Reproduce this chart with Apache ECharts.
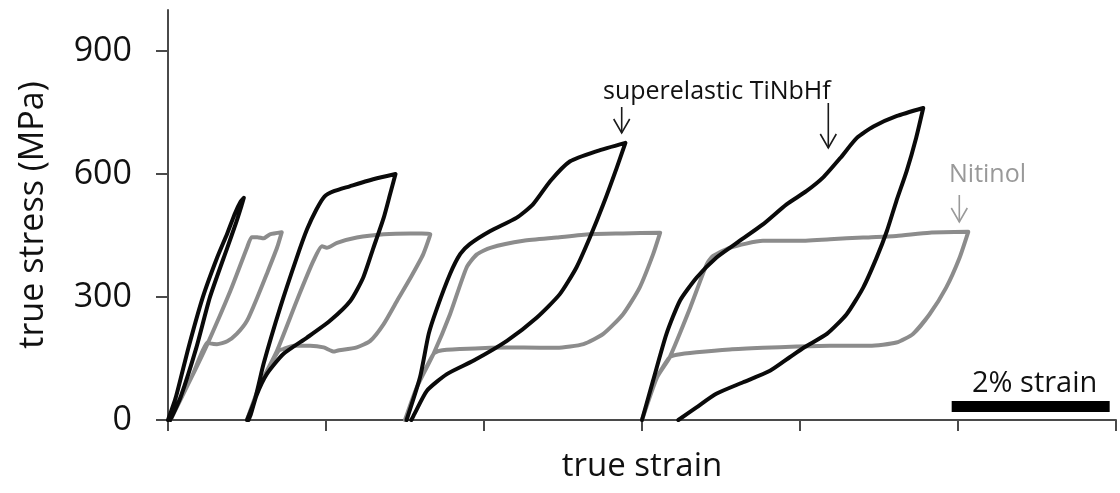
<!DOCTYPE html>
<html>
<head>
<meta charset="utf-8">
<script src="https://cdn.jsdelivr.net/npm/echarts@6/dist/echarts.min.js"></script>
<style>
html,body{margin:0;padding:0;background:#fff;}
#c{width:1120px;height:493px;}
</style>
</head>
<body>
<div id="c"></div>
<script>
// ---- data: [true strain (%), true stress (MPa)] ----
var tiCycle1 = [[0,0],[0.1,56],[0.26,177],[0.44,299],[0.62,395],[0.75,455],[0.85,505],[0.92,533],[0.96,542],[0.93,522],[0.86,480],[0.75,420],[0.53,299],[0.36,177],[0.16,56],[0.03,0]];
var tiCycle2 = [[1.0,0],[1.1,50],[1.21,137],[1.42,274],[1.63,396],[1.76,465],[1.88,514],[1.98,545],[2.10,558],[2.3,570],[2.52,583],[2.7,592],[2.88,600],[2.81,550],[2.73,493],[2.60,420],[2.47,347],[2.31,291],[2.05,242],[1.76,201],[1.46,161],[1.25,112],[1.12,60],[1.05,15],[1.02,0]];
var tiCycle3 = [[3.02,0],[3.19,104],[3.30,210],[3.40,270],[3.57,356],[3.70,405],[3.82,429],[4.08,461],[4.41,493],[4.62,526],[4.84,583],[5.09,631],[5.43,656],[5.79,676],[5.68,615],[5.51,526],[5.34,445],[5.17,372],[4.96,307],[4.67,250],[4.29,193],[3.87,145],[3.53,112],[3.28,72],[3.12,15],[3.08,0]];
var tiCycle4 = [[6.0,0],[6.14,96],[6.31,210],[6.48,291],[6.69,347],[6.94,396],[7.20,432],[7.53,477],[7.83,526],[8.08,558],[8.29,591],[8.51,639],[8.72,688],[8.93,716],[9.22,741],[9.56,761],[9.47,688],[9.35,607],[9.22,534],[9.10,461],[8.97,396],[8.80,323],[8.59,258],[8.34,210],[8.06,178],[7.87,153],[7.62,120],[7.28,92],[6.94,64],[6.69,31],[6.46,0]];

var niCycle1 = [[0.03,0],[0.3,105],[0.51,190],[0.79,315],[1.0,420],[1.06,446],[1.13,446],[1.21,443],[1.29,453],[1.44,458],[1.38,420],[1.25,356],[1.13,299],[1.0,242],[0.87,210],[0.75,192],[0.62,185],[0.535,187],[0.51,190],[0.3,105],[0.03,0]];
var niCycle2 = [[1.0,0],[1.17,88],[1.38,169],[1.63,291],[1.84,388],[1.95,424],[2.01,420],[2.14,432],[2.39,445],[2.73,453],[3.07,455],[3.32,453],[3.23,404],[3.07,347],[2.90,291],[2.73,234],[2.56,193],[2.39,177],[2.14,169],[2.10,167],[1.97,177],[1.80,181],[1.59,181],[1.46,173],[1.40,169],[1.17,88],[1.0,0]];
var niCycle3 = [[3.0,0],[3.15,80],[3.36,161],[3.57,258],[3.78,372],[3.91,404],[4.08,420],[4.50,437],[4.92,445],[5.34,453],[5.76,455],[6.23,457],[6.14,404],[5.97,323],[5.76,258],[5.51,210],[5.26,185],[4.92,176],[4.50,177],[4.08,176],[3.70,173],[3.44,169],[3.36,161],[3.15,80],[3.0,0]];
var niCycle4 = [[6.0,0],[6.19,104],[6.35,153],[6.61,274],[6.82,380],[6.90,400],[7.11,420],[7.53,437],[7.96,437],[8.38,441],[8.80,445],[9.22,449],[9.64,457],[10.13,459],[10.02,396],[9.85,323],[9.64,258],[9.43,210],[9.22,189],[8.88,181],[8.38,181],[7.96,179],[7.53,176],[7.11,172],[6.69,165],[6.44,159],[6.35,153],[6.19,104],[6.0,0]];

var yTicks = [0, 300, 600, 900];
var xTicks = [0, 2, 4, 6, 8, 10, 12];
var scaleBarStart = 9.92;   // % strain
var scaleBarLength = 2;     // % strain
var scaleBarLabel = '2% strain';
var labelTi = 'superelastic TiNbHf';
var labelNi = 'Nitinol';

var FONT = '"Open Sans", "Noto Sans", sans-serif';
var BLACK = '#0a0a0a', GRAY = '#8c8c8c', AXIS = '#4a4a4a';

function mk(data, color, w) {
  return {type: 'line', data: data, showSymbol: false, symbol: 'none', smooth: 0.2,
    lineStyle: {color: color, width: w, join: 'round', cap: 'round'}, silent: true, animation: false};
}

var chart = echarts.init(document.getElementById('c'), null, {renderer: 'canvas'});
chart.setOption({
  backgroundColor: '#fff',
  animation: false,
  grid: {left: 168, right: 4, top: 10, bottom: 73, containLabel: false},
  xAxis: {
    type: 'value', min: 0, max: 12, interval: 2,
    name: 'true strain', nameLocation: 'middle', nameGap: 30,
    nameTextStyle: {fontFamily: FONT, fontSize: 33, color: '#111'},
    axisLine: {show: true, lineStyle: {color: AXIS, width: 2}},
    axisTick: {show: true, length: 11, lineStyle: {color: AXIS, width: 2}, customValues: xTicks},
    axisLabel: {show: false},
    splitLine: {show: false}
  },
  yAxis: {
    type: 'value', min: 0, max: 1000,
    name: 'true stress (MPa)', nameLocation: 'middle', nameGap: 118,
    nameTextStyle: {fontFamily: FONT, fontSize: 34, color: '#111'},
    axisLine: {show: true, lineStyle: {color: AXIS, width: 2}},
    axisTick: {show: true, length: 12, lineStyle: {color: AXIS, width: 2}, customValues: yTicks},
    axisLabel: {show: true, fontFamily: FONT, fontSize: 34, color: '#111', margin: 36, customValues: yTicks},
    splitLine: {show: false}
  },
  series: [
    mk(niCycle1, GRAY, 4), mk(niCycle2, GRAY, 4), mk(niCycle3, GRAY, 4), mk(niCycle4, GRAY, 4),
    mk(tiCycle1, BLACK, 4), mk(tiCycle2, BLACK, 4), mk(tiCycle3, BLACK, 4), mk(tiCycle4, BLACK, 4)
  ]
});

function arrow(x, y1, y2, color, w) {
  return [
    {type: 'line', shape: {x1: x, y1: y1, x2: x, y2: y2}, style: {stroke: color, lineWidth: 1.6}},
    {type: 'polyline', shape: {points: [[x - w, y2 - 14], [x, y2], [x + w, y2 - 14]]}, style: {stroke: color, lineWidth: 1.6, fill: null}}
  ];
}

var p0 = chart.convertToPixel({gridIndex: 0}, [scaleBarStart, 0]);
var p1 = chart.convertToPixel({gridIndex: 0}, [scaleBarStart + scaleBarLength, 0]);
var barTop = p0[1] - 19, barH = 11;

var g = [];
g.push({type: 'rect', shape: {x: p0[0], y: barTop, width: p1[0] - p0[0], height: barH}, style: {fill: '#000'}});
g.push({type: 'text', style: {text: scaleBarLabel, x: (p0[0] + p1[0]) / 2 + 4, y: 384, align: 'center', verticalAlign: 'middle', font: '29px ' + FONT, fill: '#111'}});
g.push({type: 'text', style: {text: labelTi, x: 603, y: 92, align: 'left', verticalAlign: 'middle', font: '25px ' + FONT, fill: '#111'}});
g.push({type: 'text', style: {text: labelNi, x: 949, y: 175, align: 'left', verticalAlign: 'middle', font: '25px ' + FONT, fill: '#999'}});
g = g.concat(arrow(621.7, 107, 133, '#1a1a1a', 8));
g = g.concat(arrow(828.3, 103, 148, '#1a1a1a', 8));
g = g.concat(arrow(959.3, 195, 222, '#9a9a9a', 8));
chart.setOption({graphic: g});
</script>
</body>
</html>
